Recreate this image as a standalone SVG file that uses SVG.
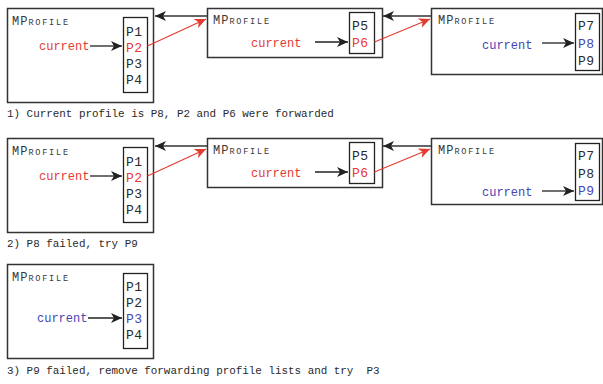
<svg xmlns="http://www.w3.org/2000/svg" width="603" height="384" viewBox="0 0 603 384">
  <defs>
    <style>
      .box { fill: #fff; stroke: #333; stroke-width: 1.5; }
      .list { fill: #fff; stroke: #222; stroke-width: 1.3; }
      .p { font-family: "Liberation Mono", monospace; font-size: 13px; fill: #2a2a2a; letter-spacing: 0.5px; }
      .cur { font-family: "Liberation Mono", monospace; font-size: 12px; }
      .red { fill: #e53a30; }
      .blue { fill: #4545b5; }
      .mp { font-family: "Liberation Mono", monospace; fill: #383838; }
      .mp .big { font-size: 12px; letter-spacing: 1px; }
      .mp .small { font-size: 8.5px; letter-spacing: 1.8px; }
      .cap { font-family: "Liberation Mono", monospace; font-size: 10.9px; fill: #2a2a2a; white-space: pre; }
      .ptr { stroke: #222; stroke-width: 1.3; fill: none; marker-end: url(#headK); }
      .back { stroke: #333; stroke-width: 1.5; fill: none; marker-end: url(#headK); }
      .fwd { stroke: #e53a30; stroke-width: 1.1; fill: none; marker-end: url(#headR); }
    </style>
    <marker id="headK" markerUnits="userSpaceOnUse" markerWidth="12" markerHeight="10" refX="11" refY="5" orient="auto">
      <path d="M0,0 L11,5 L0,10 L3,5 Z" fill="#222"/>
    </marker>
    <marker id="headR" markerUnits="userSpaceOnUse" markerWidth="12" markerHeight="10" refX="11" refY="5" orient="auto">
      <path d="M0,0 L11,5 L0,10 L3,5 Z" fill="#e53a30"/>
    </marker>
  </defs>

  <!-- Step 1 -->
  <g id="s1-a">
    <rect class="box" x="7.5" y="8.5" width="146" height="94"/>
    <text class="mp" x="12" y="25"><tspan class="big">MP</tspan><tspan class="small">ROFILE</tspan></text>
    <rect class="list" x="123.5" y="17.5" width="24" height="75"/>
    <text class="p" x="126" y="35.5">P1</text>
    <text class="p red" x="126" y="51.5">P2</text>
    <text class="p" x="126" y="67.5">P3</text>
    <text class="p" x="126" y="83.5">P4</text>
    <text class="cur red" x="39" y="50">current</text>
  </g>
  <g id="s1-b">
    <rect class="box" x="207.5" y="8.5" width="175" height="49"/>
    <text class="mp" x="213" y="24"><tspan class="big">MP</tspan><tspan class="small">ROFILE</tspan></text>
    <rect class="list" x="349.5" y="12.5" width="25" height="41"/>
    <text class="p" x="352" y="29.5">P5</text>
    <text class="p red" x="352" y="46.5">P6</text>
    <text class="cur red" x="251" y="47">current</text>
  </g>
  <g id="s1-c">
    <rect class="box" x="431.5" y="8.5" width="171" height="66"/>
    <text class="mp" x="438" y="24"><tspan class="big">MP</tspan><tspan class="small">ROFILE</tspan></text>
    <rect class="list" x="575.5" y="13.5" width="24" height="57"/>
    <text class="p" x="578" y="29.5">P7</text>
    <text class="p blue" x="578" y="47.5">P8</text>
    <text class="p" x="578" y="64.5">P9</text>
    <text class="cur blue" x="482" y="49">current</text>
  </g>
  <text class="cap" x="7" y="117">1) Current profile is P8, P2 and P6 were forwarded</text>

  <!-- Step 2 -->
  <g id="s2-a">
    <rect class="box" x="7.5" y="138.5" width="146" height="94"/>
    <text class="mp" x="12" y="155"><tspan class="big">MP</tspan><tspan class="small">ROFILE</tspan></text>
    <rect class="list" x="123.5" y="147.5" width="24" height="75"/>
    <text class="p" x="126" y="165.5">P1</text>
    <text class="p red" x="126" y="181.5">P2</text>
    <text class="p" x="126" y="197.5">P3</text>
    <text class="p" x="126" y="213.5">P4</text>
    <text class="cur red" x="39" y="180">current</text>
  </g>
  <g id="s2-b">
    <rect class="box" x="207.5" y="138.5" width="175" height="49"/>
    <text class="mp" x="213" y="154"><tspan class="big">MP</tspan><tspan class="small">ROFILE</tspan></text>
    <rect class="list" x="349.5" y="142.5" width="25" height="41"/>
    <text class="p" x="352" y="159.5">P5</text>
    <text class="p red" x="352" y="176.5">P6</text>
    <text class="cur red" x="251" y="177">current</text>
  </g>
  <g id="s2-c">
    <rect class="box" x="431.5" y="138.5" width="171" height="66"/>
    <text class="mp" x="438" y="154"><tspan class="big">MP</tspan><tspan class="small">ROFILE</tspan></text>
    <rect class="list" x="575.5" y="143.5" width="24" height="57"/>
    <text class="p" x="578" y="159.5">P7</text>
    <text class="p" x="578" y="177.5">P8</text>
    <text class="p blue" x="578" y="194.5">P9</text>
    <text class="cur blue" x="482" y="196">current</text>
  </g>
  <text class="cap" x="7" y="247">2) P8 failed, try P9</text>

  <!-- Step 3 -->
  <g id="s3-a">
    <rect class="box" x="7.5" y="264.5" width="146" height="94"/>
    <text class="mp" x="12" y="281"><tspan class="big">MP</tspan><tspan class="small">ROFILE</tspan></text>
    <rect class="list" x="123.5" y="273.5" width="24" height="75"/>
    <text class="p" x="126" y="290.5">P1</text>
    <text class="p" x="126" y="306.5">P2</text>
    <text class="p blue" x="126" y="322.5">P3</text>
    <text class="p" x="126" y="338.5">P4</text>
    <text class="cur blue" x="37" y="322">current</text>
  </g>
  <text class="cap" x="7" y="374">3) P9 failed, remove forwarding profile lists and try&#160; P3</text>

  <!-- Connectors -->
  <g id="connectors">
    <!-- step 1 -->
    <line class="ptr" x1="90" y1="46" x2="122" y2="46"/>
    <line class="ptr" x1="315" y1="42" x2="348" y2="42"/>
    <line class="ptr" x1="542" y1="43" x2="574" y2="43"/>
    <line class="back" x1="207" y1="16" x2="155" y2="16"/>
    <line class="back" x1="431" y1="16" x2="383" y2="16"/>
    <line class="fwd" x1="147.5" y1="46" x2="206" y2="19"/>
    <line class="fwd" x1="374.5" y1="42" x2="430" y2="19"/>
    <!-- step 2 -->
    <line class="ptr" x1="90" y1="176" x2="122" y2="176"/>
    <line class="ptr" x1="315" y1="172" x2="348" y2="172"/>
    <line class="ptr" x1="542" y1="191" x2="574" y2="191"/>
    <line class="back" x1="207" y1="146" x2="155" y2="146"/>
    <line class="back" x1="431" y1="146" x2="383" y2="146"/>
    <line class="fwd" x1="147.5" y1="176" x2="206" y2="149"/>
    <line class="fwd" x1="374.5" y1="172" x2="430" y2="149"/>
    <!-- step 3 -->
    <line class="ptr" x1="88" y1="318" x2="122" y2="318"/>
  </g>
</svg>
